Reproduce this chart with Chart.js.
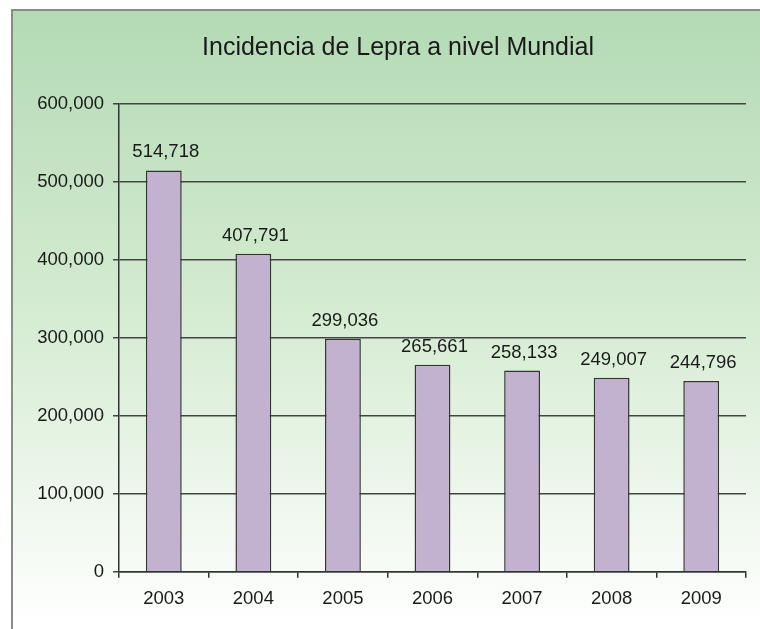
<!DOCTYPE html>
<html>
<head>
<meta charset="utf-8">
<script src="https://cdn.jsdelivr.net/npm/chart.js"></script>
<style>
  html, body { margin: 0; padding: 0; background: #ffffff; }
  #chart-container { width: 760px; height: 629px; }
</style>
</head>
<body>
<div id="chart-container">
  <canvas id="myChart" width="760" height="629"></canvas>
</div>
<script>
  const years = ['2003', '2004', '2005', '2006', '2007', '2008', '2009'];
  const cases = [514718, 407791, 299036, 265661, 258133, 249007, 244796];
  const yTicks = [0, 100000, 200000, 300000, 400000, 500000, 600000];
  const titleText = 'Incidencia de Lepra a nivel Mundial';

  const fmt = v => v.toLocaleString('en-US');
  const FONT = '"Liberation Sans", Arial, sans-serif';

  // green-to-white framed panel behind everything, plus the title
  const panelBackground = {
    id: 'panelBackground',
    beforeDraw(chart) {
      const ctx = chart.ctx;
      ctx.save();
      const g = ctx.createLinearGradient(0, 10, 0, chart.height);
      g.addColorStop(0, '#b3dab4');
      g.addColorStop(0.5, '#d6ecd3');
      g.addColorStop(1, '#ffffff');
      ctx.fillStyle = g;
      ctx.fillRect(12, 10, chart.width - 12, chart.height - 10);
      ctx.strokeStyle = '#8a8a8a';
      ctx.lineWidth = 2;
      ctx.beginPath();
      ctx.moveTo(12, chart.height);
      ctx.lineTo(12, 10);
      ctx.lineTo(chart.width, 10);
      ctx.stroke();

      // title sits a bit left of the plot centre, like the original
      ctx.font = '25px ' + FONT;
      ctx.fillStyle = '#1a1a1a';
      ctx.textAlign = 'center';
      ctx.textBaseline = 'middle';
      ctx.fillText(titleText, 398, 48);
      ctx.restore();
    }
  };

  // value labels above the bars
  const barLabels = {
    id: 'barLabels',
    afterDatasetsDraw(chart) {
      const ctx = chart.ctx;
      const meta = chart.getDatasetMeta(0);
      ctx.save();
      ctx.font = '18.5px ' + FONT;
      ctx.fillStyle = '#1a1a1a';
      ctx.textAlign = 'center';
      ctx.textBaseline = 'alphabetic';
      meta.data.forEach((bar, i) => {
        ctx.fillText(fmt(cases[i]), bar.x + 2, bar.y - 13);
      });
      ctx.restore();
    }
  };

  const ctx = document.getElementById('myChart').getContext('2d');
  const chart = new Chart(ctx, {
    type: 'bar',
    data: {
      labels: years,
      datasets: [{
        data: cases,
        backgroundColor: '#c3b2cf',
        borderColor: '#333333',
        borderWidth: 1.5,
        barPercentage: 0.8,
        categoryPercentage: 0.5
      }]
    },
    options: {
      responsive: false,
      animation: false,
      devicePixelRatio: 1,
      layout: { padding: { left: 20, right: 14, top: 104, bottom: 9 } },
      plugins: {
        legend: { display: false },
        tooltip: { enabled: false },
        title: { display: false }
      },
      scales: {
        x: {
          grid: { display: true, drawOnChartArea: false, offset: true, tickLength: 6, color: '#333', lineWidth: 1.5 },
          border: { color: '#333', width: 1.5 },
          ticks: {
            color: '#1a1a1a',
            padding: 10,
            maxRotation: 0,
            autoSkip: false,
            font: { family: FONT, size: 18.5 }
          }
        },
        y: {
          min: 0,
          max: 600000,
          afterFit: s => { s.width = 99; },
          afterBuildTicks: s => { s.ticks = yTicks.map(v => ({ value: v })); },
          grid: { color: '#444', lineWidth: 1.5, tickLength: 6 },
          border: { color: '#333', width: 1.5 },
          ticks: {
            color: '#1a1a1a',
            padding: 9,
            font: { family: FONT, size: 18.5 },
            callback: v => fmt(v)
          }
        }
      }
    },
    plugins: [panelBackground, barLabels]
  });
</script>
</body>
</html>
